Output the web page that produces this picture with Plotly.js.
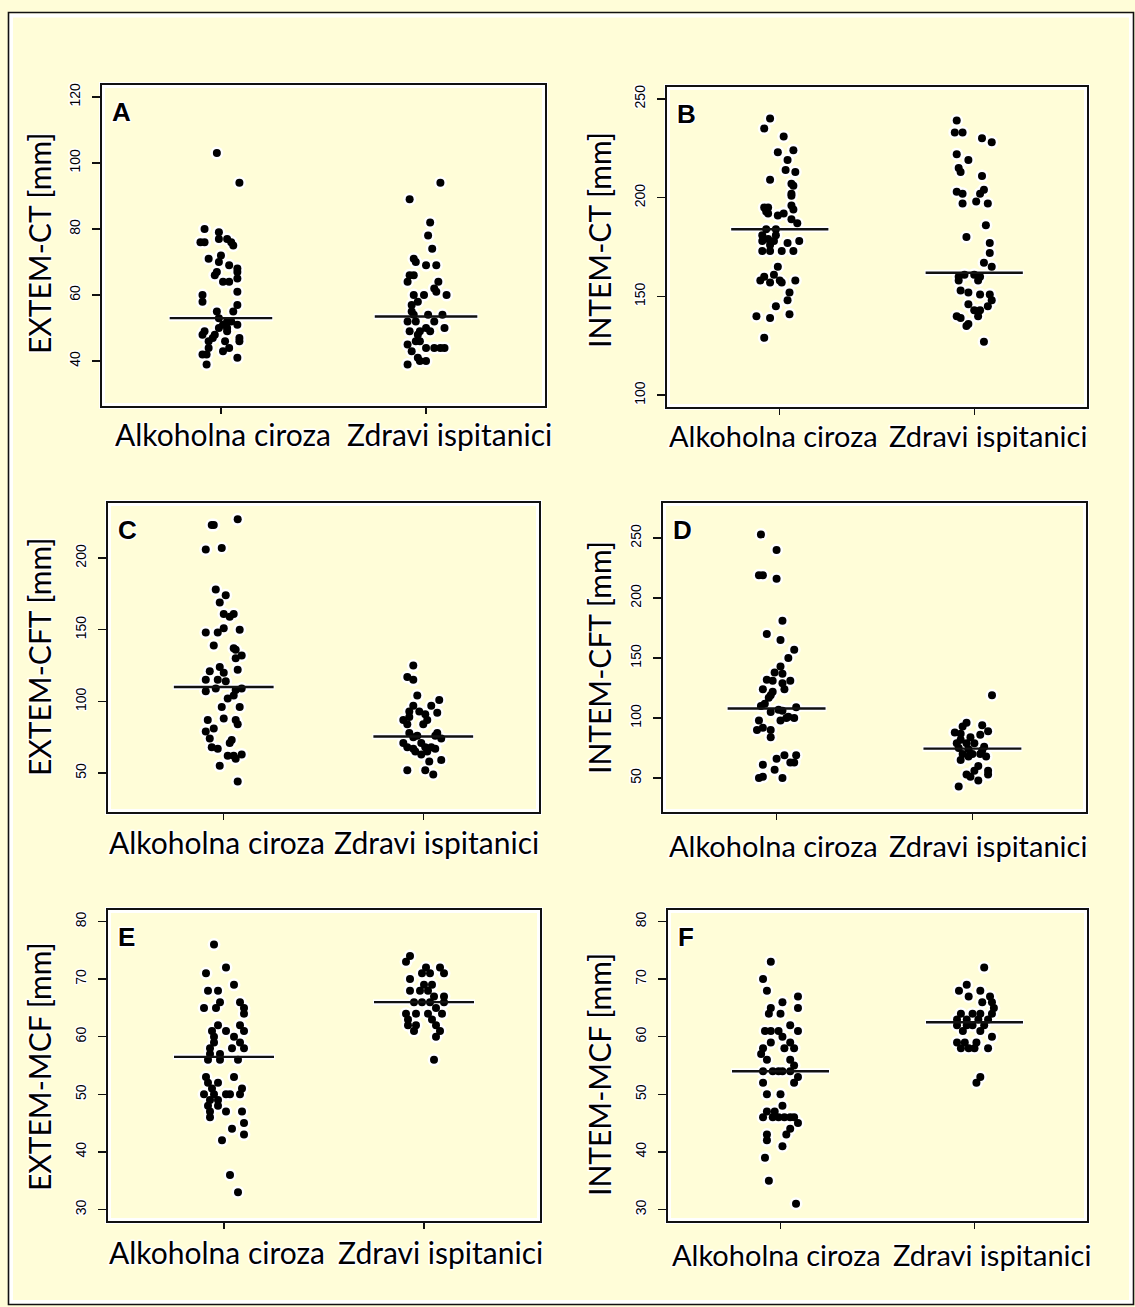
<!DOCTYPE html>
<html><head><meta charset="utf-8">
<script src="https://cdn.plot.ly/plotly-3.0.1.min.js"></script>
<style>
html,body{margin:0;padding:0;background:#FFFDD8;}
#chart{width:1135px;height:1307px;}
.main-svg text{paint-order:stroke;stroke:#ffffff;stroke-width:3px;stroke-linejoin:round;}
</style></head><body><div id="chart"></div>
<script>
// ---------------- DATA ----------------
const categories = ["Alkoholna ciroza", "Zdravi ispitanici"];
const panelLabels = ["A", "B", "C", "D", "E", "F"];
const yTitles = ["EXTEM-CT [mm]", "INTEM-CT [mm]", "EXTEM-CFT [mm]", "INTEM-CFT [mm]", "EXTEM-MCF [mm]", "INTEM-MCF [mm]"];

// A: EXTEM-CT
const extemCT_ciroza = [103,94,80,79,77,77,76,76,76,75,72,71,70,69,68,67,67,66,65,64,64,61,60,58,57,55,55,53,52,51,51,50,49,48,49,48,47,46,46,46,44,44,43,42,42,41,39,52,50,47];
const extemCT_ciroza_jitter = [-0.02,0.09,-0.08,-0.01,-0.01,0.03,-0.10,-0.08,0.05,0.06,0.00,-0.06,-0.01,0.04,0.08,0.08,-0.02,-0.03,0.08,0.01,0.04,0.08,-0.09,-0.09,0.08,-0.02,0.06,-0.01,0.03,0.01,0.08,0.03,-0.08,-0.03,0.03,-0.09,0.09,0.09,-0.06,0.02,-0.06,0.04,0.01,-0.09,-0.07,0.08,-0.07,0.05,-0.01,-0.04];
const extemCT_zdravi = [94,89,82,78,74,71,70,69,69,66,66,64,64,62,61,60,60,60,58,57,55,54,54,54,52,52,52,50,49,49,50,49,48,46,46,45,43,44,44,44,44,41,40,40,39];
const extemCT_zdravi_jitter = [0.07,-0.08,0.02,0.01,0.03,-0.06,-0.05,0.00,0.05,-0.08,-0.06,-0.09,0.06,0.04,0.05,-0.06,-0.01,0.10,-0.04,-0.07,-0.07,-0.06,0.01,0.08,-0.09,-0.05,0.04,0.09,-0.08,-0.03,0.00,0.02,-0.04,-0.05,-0.03,-0.09,-0.07,0.00,0.04,0.07,0.09,-0.04,-0.03,0.00,-0.09];

// B: INTEM-CT
const intemCT_ciroza = [240,235,231,224,223,219,214,213,209,207,206,202,201,195,195,196,194,193,192,191,192,189,187,184,184,181,181,179,178,178,176,177,178,173,173,173,173,165,161,160,158,158,158,157,157,152,148,145,141,140,139,129];
const intemCT_ciroza_jitter = [-0.05,-0.08,0.02,0.07,-0.01,0.04,0.03,0.08,-0.05,0.06,0.07,0.06,0.06,-0.08,-0.06,0.06,0.07,-0.07,-0.06,-0.01,0.02,0.06,0.09,-0.07,-0.02,-0.09,-0.02,-0.06,-0.03,-0.09,-0.05,0.04,0.10,-0.09,-0.05,0.01,0.07,-0.01,-0.03,-0.08,-0.10,0.00,0.08,-0.05,0.01,0.05,0.04,-0.02,0.05,-0.12,-0.05,-0.08];
const intemCT_zdravi = [239,233,233,230,228,222,219,215,213,211,203,202,204,202,197,198,197,186,180,177,172,167,165,160,161,161,160,158,158,153,152,151,151,148,145,146,143,143,140,139,140,135,136,127];
const intemCT_zdravi_jitter = [-0.09,-0.10,-0.06,0.04,0.09,-0.09,-0.03,-0.08,-0.07,0.04,-0.09,-0.06,0.05,0.03,-0.06,0.01,0.07,0.06,-0.04,0.08,0.08,0.05,0.09,-0.08,-0.05,0.00,0.03,-0.08,0.02,-0.07,-0.03,0.03,0.08,0.09,0.07,-0.03,0.00,0.03,-0.09,-0.07,0.02,-0.04,-0.03,0.05];

// C: EXTEM-CFT
const extemCFT_ciroza = [223,223,227,206,207,178,174,169,161,161,159,148,148,151,150,139,137,136,132,130,124,121,122,120,115,114,115,107,109,109,108,102,104,96,96,87,88,87,84,79,81,74,73,71,68,67,62,62,63,60,55,44];
const extemCFT_ciroza_jitter = [-0.06,-0.05,0.07,-0.09,-0.01,-0.04,0.01,-0.02,0.00,0.05,0.03,-0.09,-0.03,0.00,0.08,-0.05,0.05,0.06,0.09,0.06,-0.02,-0.07,0.07,0.00,-0.09,0.01,-0.03,-0.09,-0.04,0.09,0.06,0.02,0.05,-0.01,0.08,-0.08,0.00,0.06,0.07,-0.09,-0.05,-0.07,0.04,0.03,-0.06,-0.03,0.02,0.05,0.09,0.06,-0.02,0.07];
const extemCFT_zdravi = [125,117,115,104,101,97,97,92,93,93,91,87,89,87,84,84,78,78,76,75,74,76,71,71,68,68,67,68,67,65,63,65,59,58,52,52,49];
const extemCFT_zdravi_jitter = [-0.05,-0.08,-0.05,-0.03,0.08,0.04,-0.05,0.07,-0.07,-0.02,0.01,-0.10,-0.07,0.02,-0.08,0.00,-0.07,0.07,-0.03,-0.05,0.09,0.06,-0.10,-0.01,0.01,-0.08,-0.05,0.04,0.06,-0.04,-0.01,0.02,0.09,0.03,-0.08,0.01,0.05];

// D: INTEM-CFT
const intemCFT_ciroza = [253,240,219,219,216,181,170,165,157,150,143,138,137,132,131,131,129,124,124,122,117,112,110,109,105,107,106,101,100,98,98,90,92,90,84,69,69,63,63,66,61,57,50,51,50,119,100];
const intemCFT_ciroza_jitter = [-0.08,0.00,-0.09,-0.07,0.00,0.03,-0.05,0.02,0.09,0.06,0.02,-0.01,0.03,-0.05,-0.02,0.07,0.03,0.04,-0.07,-0.02,-0.04,-0.06,-0.08,0.10,-0.03,0.01,0.03,0.06,0.09,0.02,-0.09,-0.10,-0.07,-0.03,-0.03,0.04,0.10,0.07,0.09,0.00,-0.07,-0.01,-0.09,-0.07,0.03,-0.03,0.05];
const intemCFT_zdravi = [119,96,93,94,88,87,89,84,86,82,79,79,79,76,75,74,73,70,70,68,70,65,68,60,56,56,53,53,51,48,43];
const intemCFT_zdravi_jitter = [0.10,-0.03,-0.05,0.05,-0.09,-0.06,0.08,-0.01,0.04,-0.06,-0.08,-0.03,0.01,0.06,-0.07,-0.02,0.05,-0.05,0.00,0.07,0.04,-0.06,-0.02,0.03,0.01,0.08,0.08,-0.03,-0.01,0.03,-0.07];

// E: EXTEM-MCF
const extemMCF_ciroza = [76,72,71,69,68,68,66,66,65,65,65,64,62,62,61,61,61,60,60,59,59,58,58,58,57,57,56,56,56,53,53,52,52,51,51,50,50,50,50,50,49,49,48,48,47,47,47,46,45,44,43,42,36,33];
const extemMCF_ciroza_jitter = [-0.05,0.01,-0.09,0.05,-0.08,-0.03,-0.02,0.08,-0.10,-0.04,0.10,0.10,-0.03,0.08,-0.06,0.01,0.10,-0.05,0.05,-0.05,0.08,-0.07,0.04,0.10,-0.02,-0.07,-0.08,-0.02,0.07,-0.09,0.05,-0.08,-0.03,-0.06,0.09,-0.10,-0.05,0.01,0.03,0.08,-0.03,-0.07,-0.08,-0.03,-0.07,0.01,0.09,-0.07,0.10,0.04,0.10,-0.01,0.03,0.07];
const extemMCF_zdravi = [74,73,72,72,71,71,71,70,69,69,68,68,68,67,67,66,66,66,66,65,64,64,64,64,63,63,62,62,62,61,61,60,56];
const extemMCF_zdravi_jitter = [-0.07,-0.09,0.01,0.08,-0.01,0.03,0.10,-0.07,0.00,0.04,-0.07,-0.02,0.02,0.05,0.10,-0.05,-0.01,0.03,0.10,0.06,-0.09,-0.04,0.02,0.09,-0.08,0.04,-0.08,-0.04,0.06,-0.05,0.08,0.06,0.05];

// F: INTEM-MCF
const intemMCF_ciroza = [73,70,68,66,67,65,65,64,64,62,61,61,61,61,60,59,59,58,58,58,57,56,56,55,54,54,54,54,54,53,52,52,50,50,48,47,47,46,46,46,46,46,46,45,44,43,43,42,41,39,35,31];
const intemMCF_ciroza_jitter = [-0.05,-0.09,-0.07,0.01,0.09,0.09,-0.05,-0.06,0.00,0.05,0.09,-0.08,-0.05,-0.01,0.01,-0.05,0.05,-0.09,0.02,0.07,-0.10,-0.07,0.05,0.07,-0.09,-0.04,-0.01,0.01,0.05,0.09,0.07,-0.09,-0.07,0.00,0.01,-0.07,-0.03,-0.09,-0.04,-0.01,0.02,0.05,0.07,0.09,0.05,0.03,-0.07,-0.07,0.01,-0.08,-0.06,0.08];
const intemMCF_zdravi = [72,69,68,68,67,67,66,66,65,64,64,64,64,63,63,63,63,62,62,62,62,61,61,60,59,59,59,58,58,58,58,53,52];
const intemMCF_zdravi_jitter = [0.05,-0.04,-0.08,0.03,-0.03,0.08,0.04,0.09,0.10,-0.07,-0.01,0.03,0.09,-0.09,-0.04,0.02,0.07,-0.09,-0.04,-0.01,0.05,-0.06,0.03,0.09,-0.09,-0.05,0.01,-0.07,-0.03,0.00,0.07,0.03,0.01];

// median lines: [ciroza, zdravi]
const medians = [[53, 53.5], [184, 162], [110, 75.5], [108, 74.5], [56.5, 66], [54, 62.5]];

// y tick values per panel
const yTicks = [[40,60,80,100,120], [100,150,200,250], [50,100,150,200], [50,100,150,200,250], [30,40,50,60,70,80], [30,40,50,60,70,80]];

// ---------------- LAYOUT CONFIG (pixel positions) ----------------
const W = 1135, H = 1307;
const BG = '#FFFDD8';
const panels = [
  {groups:[extemCT_ciroza, extemCT_zdravi], jit:[extemCT_ciroza_jitter, extemCT_zdravi_jitter], box:[102,85,545,406], yr:[26.4,123.6], tx:39, ty:244, lx:[222.5,450], ly:434, ls:30},
  {groups:[intemCT_ciroza, intemCT_zdravi], jit:[intemCT_ciroza_jitter, intemCT_zdravi_jitter], box:[667,87,1087,407], yr:[94,256], tx:599, ty:240, lx:[773,988], ly:435, ls:29},
  {groups:[extemCFT_ciroza, extemCFT_zdravi], jit:[extemCFT_ciroza_jitter, extemCFT_zdravi_jitter], box:[108,503,539,812], yr:[22.8,238.4], tx:39, ty:657, lx:[216.5,436.5], ly:842, ls:30},
  {groups:[intemCFT_ciroza, intemCFT_zdravi], jit:[intemCFT_ciroza_jitter, intemCFT_zdravi_jitter], box:[663,503,1086,812], yr:[21.7,279.2], tx:599, ty:658, lx:[773,988], ly:845, ls:29},
  {groups:[extemMCF_ciroza, extemMCF_zdravi], jit:[extemMCF_ciroza_jitter, extemMCF_zdravi_jitter], box:[108,910,540,1221], yr:[28,82], tx:39, ty:1067, lx:[216.5,440], ly:1252, ls:30},
  {groups:[intemMCF_ciroza, intemMCF_zdravi], jit:[intemMCF_ciroza_jitter, intemMCF_zdravi_jitter], box:[668,910,1087,1221], yr:[28,82], tx:599, ty:1075, lx:[777,992], ly:1254, ls:29}
];

const data = [];
const layout = {
  width: W, height: H,
  margin: {l:0, r:0, t:0, b:0, pad:0},
  paper_bgcolor: BG, plot_bgcolor: BG,
  showlegend: false,
  font: {family: 'Liberation Sans, Arial, sans-serif', color: '#000'},
  annotations: [], shapes: []
};
const px = v => v / W, py = v => 1 - v / H;

// outer border
layout.shapes.push({type:'rect', xref:'paper', yref:'paper', x0:px(11), x1:px(1131), y0:py(1302), y1:py(15.5), line:{color:'#ffffff', width:4}, layer:'below'});
layout.shapes.push({type:'rect', xref:'paper', yref:'paper', x0:px(8.5), x1:px(1133.5), y0:py(1304.5), y1:py(12.5), line:{color:'#111', width:1.6}, layer:'above'});

panels.forEach((p, i) => {
  const n = i + 1, s = n === 1 ? '' : String(n);
  const xa = 'x' + s, ya = 'y' + s;
  const [l, t, r, b] = p.box;
  layout['xaxis' + s] = {
    domain:[px(l), px(r)], range:[0.42, 2.58], anchor:ya,
    tickmode:'array', tickvals:[1,2], ticktext:categories, showticklabels:false,
    showline:true, mirror:true, linecolor:'#111', linewidth:1.6,
    ticks:'outside', ticklen:6, tickwidth:1.4, tickcolor:'#111',
    showgrid:false, zeroline:false, fixedrange:true
  };
  layout['yaxis' + s] = {
    domain:[py(b), py(t)], range:p.yr, anchor:xa,
    tickmode:'array', tickvals:yTicks[i], tickangle:-90,
    showline:true, mirror:true, linecolor:'#111', linewidth:1.6,
    ticks:'outside', ticklen:8, tickwidth:1.4, tickcolor:'#111',
    showgrid:false, zeroline:false, fixedrange:true, ticklabelstandoff:7,
    tickfont:{family:'Liberation Sans, Arial, sans-serif', size:14, color:'#000'}
  };
  // white halo along the frame
  layout.shapes.push({type:'rect', xref:'paper', yref:'paper', x0:px(l), x1:px(r), y0:py(b), y1:py(t), line:{color:'#ffffff', width:6}, layer:'below'});
  // panel letter
  layout.annotations.push({xref:'paper', yref:'paper', x:px(l + 8), y:py(t + 10), xanchor:'left', yanchor:'top', showarrow:false,
    text:panelLabels[i], font:{family:'Liberation Sans, Arial, sans-serif', size:26, weight:'bold', color:'#000'}});
  // y-axis title
  layout.annotations.push({xref:'paper', yref:'paper', x:px(p.tx), y:py(p.ty), xanchor:'center', yanchor:'middle', showarrow:false,
    textangle:-90, text:yTitles[i], font:{family:'Lato, sans-serif', size:30, color:'#000'}});
  // category labels under the axis
  categories.forEach((c, g) => {
    layout.annotations.push({xref:'paper', yref:'paper', x:px(p.lx[g]), y:py(p.ly), xanchor:'center', yanchor:'middle', showarrow:false,
      text:c, font:{family:'Lato, sans-serif', size:p.ls, color:'#000'}});
  });

  // halos under points
  p.groups.forEach((vals, g) => {
    data.push({type:'scatter', mode:'markers', xaxis:xa, yaxis:ya, hoverinfo:'skip',
      x: vals.map((v, k) => g + 1 + p.jit[g][k]), y: vals,
      marker:{size:13, color:'#ffffff', line:{width:0}}});
  });
  // median halos
  medians[i].forEach((m, g) => {
    data.push({type:'scatter', mode:'lines', xaxis:xa, yaxis:ya, hoverinfo:'skip',
      x:[g + 1 - 0.255, g + 1 + 0.255], y:[m, m], line:{color:'#ffffff', width:6}});
  });
  // black points
  p.groups.forEach((vals, g) => {
    data.push({type:'scatter', mode:'markers', xaxis:xa, yaxis:ya, name:categories[g],
      x: vals.map((v, k) => g + 1 + p.jit[g][k]), y: vals,
      marker:{size:8, color:'#000000', line:{width:0}}});
  });
  // median lines
  medians[i].forEach((m, g) => {
    data.push({type:'scatter', mode:'lines', xaxis:xa, yaxis:ya, hoverinfo:'skip',
      x:[g + 1 - 0.25, g + 1 + 0.25], y:[m, m], line:{color:'#111111', width:2.4}});
  });
});

Plotly.newPlot('chart', data, layout, {staticPlot:true, displayModeBar:false});
</script></body></html>
